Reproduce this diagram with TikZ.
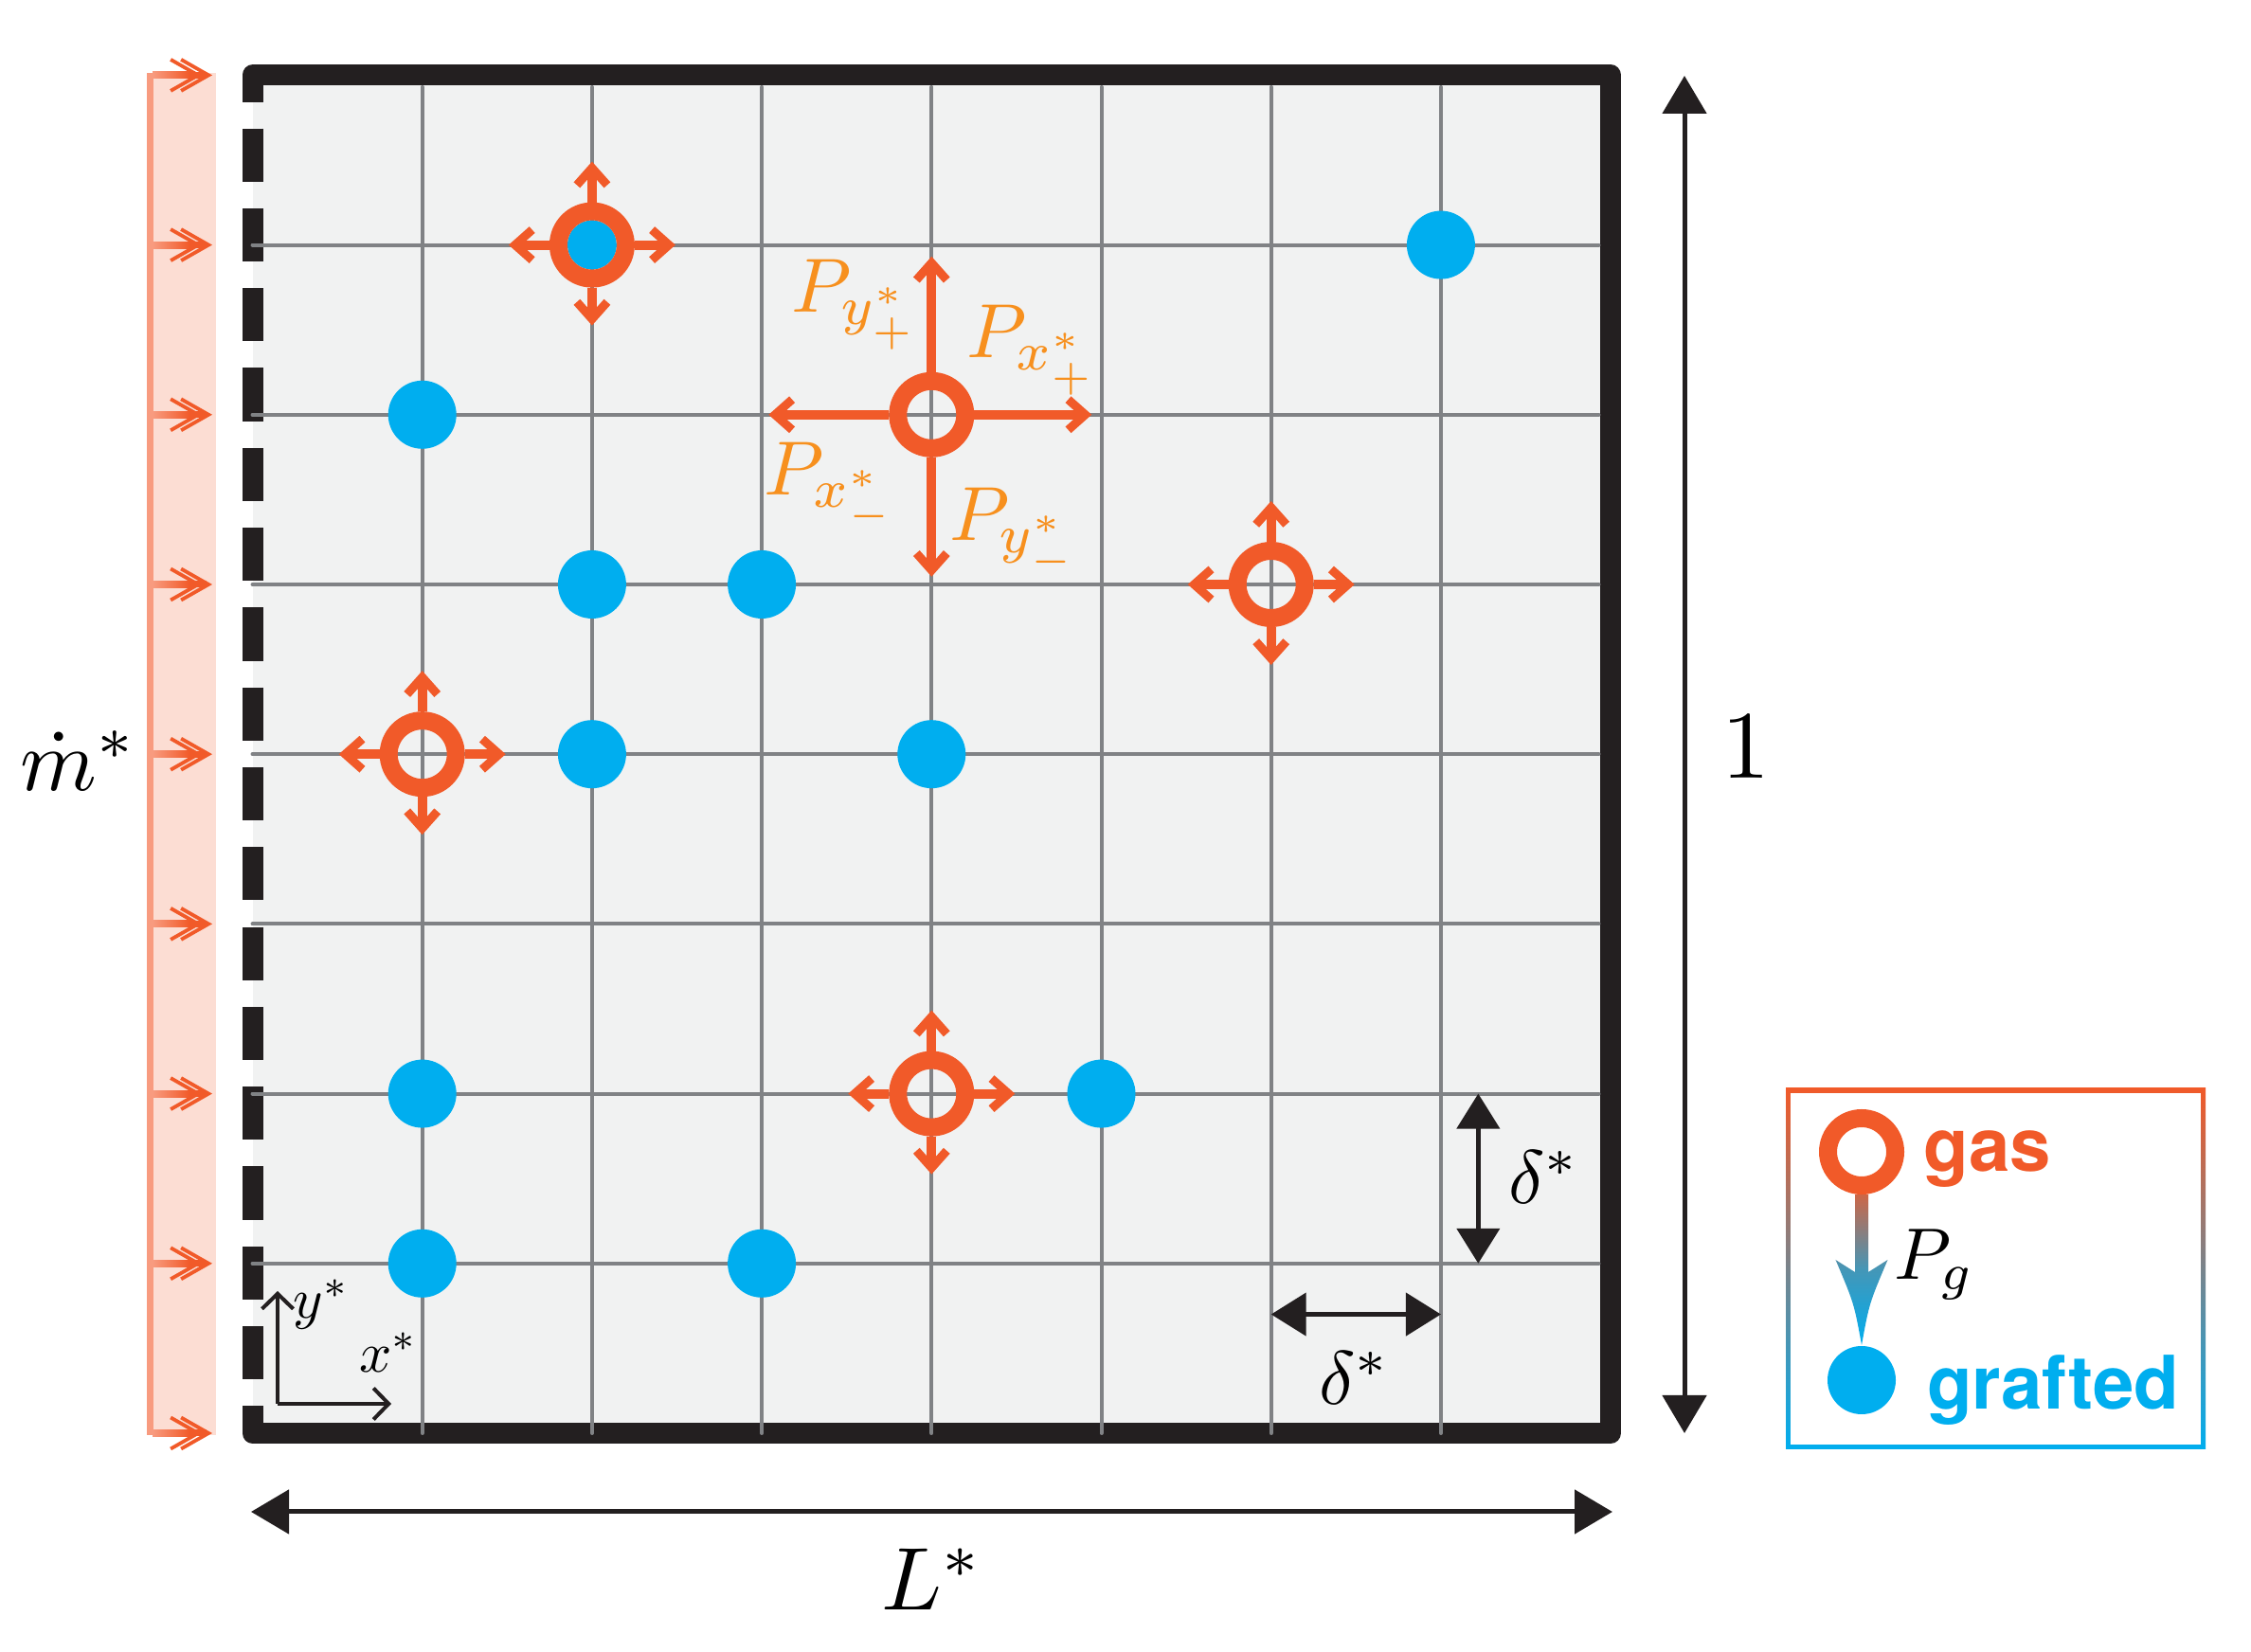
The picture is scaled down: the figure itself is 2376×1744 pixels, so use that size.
\documentclass[tikz,border=0pt]{standalone}
\usepackage{fontspec}
\newfontfamily\legendfont{TeX Gyre Heros}
\usetikzlibrary{arrows.meta}
\definecolor{gasorange}{HTML}{F15A29}
\definecolor{lblorange}{HTML}{F7901E}
\definecolor{graftblue}{HTML}{00AEEF}
\definecolor{gridgrey}{HTML}{808285}
\definecolor{bgfill}{HTML}{F1F2F2}
\definecolor{frameblack}{HTML}{231F20}
\definecolor{inletpink}{HTML}{FCDDD3}
\definecolor{inletline}{HTML}{F89B7F}
\tikzset{
  gasring/.style={circle, draw=gasorange, line width=19pt, minimum size=71pt, inner sep=0pt, outer sep=9.5pt},
  graftdot/.style={circle, fill=graftblue, minimum size=72pt, inner sep=0pt, outer sep=0pt},
  hoparrow/.style={draw=gasorange, line width=10pt, -{Straight Barb[length=18pt,width=32pt,line width=9pt]}},
  dimarrow/.style={draw=frameblack, line width=5pt, {Triangle[length=40pt,width=46pt]}-{Triangle[length=40pt,width=46pt]}},
  deltaarrow/.style={draw=frameblack, line width=4.5pt, {Triangle[length=37pt,width=45pt]}-{Triangle[length=37pt,width=45pt]}},
  axisarrow/.style={draw=frameblack, line width=4pt, -{Straight Barb[length=16pt,width=33pt,line width=4pt]}},
  mathlbl/.style={inner sep=0pt, scale=#1},
  gridline/.style={draw=gridgrey, line width=4pt, line cap=round},
  inletbarb/.style={-{Straight Barb[length=29pt,width=33pt,line width=3.8pt]}},
  legendtxt/.style={font=\legendfont\bfseries\fontsize{78}{80}\selectfont, inner sep=0pt, anchor=base west},
}
\newcommand\gashop[3]{%
  \node[gasring] (#1) at (#2,#3) {};
  \draw[hoparrow] (#1.north) -- ++(0,43pt);
  \draw[hoparrow] (#1.south) -- ++(0,-40pt);
  \draw[hoparrow] (#1.east) -- ++(43pt,0);
  \draw[hoparrow] (#1.west) -- ++(-43pt,0);
}
\begin{document}
\begin{tikzpicture}[x=1pt,y=1pt]
\useasboundingbox (0,0) rectangle (2376,1744);
% inlet band
\fill[inletpink] (155,229) rectangle (228,1667);
\fill[inletline] (155,229) rectangle (162,1667);
\foreach \j in {0,...,8}{
  \pgfmathsetmacro\yy{231+179.2*\j}
  \draw[gasorange, line width=7pt, inletbarb] (195,\yy) -- (224,\yy);
  \draw[gasorange, line width=7pt, inletbarb] (195,\yy) -- (213,\yy);
  \shade[left color=inletline, right color=gasorange] (161,\yy-3.5) rectangle (200,\yy+3.5);
}
% domain
\begin{scope}[shift={(266.5pt,231pt)}, x=179.2pt, y=179.2pt]
  \fill[bgfill] (0,0) rectangle (8,8);
  \draw[frameblack, line width=22pt, line join=round] (0,7.843) -- (0,8) -- (8,8) -- (8,0) -- (0,0) -- (0,0.163);
  \draw[frameblack, line width=22pt, dash pattern=on 56.2pt off 28.1pt, dash phase=28.1pt] (0,8) -- (0,0);
  \foreach \k in {1,...,7}{
    \draw[gridline] (\k,0) -- (\k,7.93);
    \draw[gridline] (0,\k) -- (7.93,\k);
  }
  % grafted sites
  \node[graftdot] (d1) at (7,7) {};
  \node[graftdot] (d2) at (1,6) {};
  \node[graftdot] (d3) at (2,5) {};
  \node[graftdot] (d4) at (3,5) {};
  \node[graftdot] (d5) at (2,4) {};
  \node[graftdot] (d6) at (4,4) {};
  \node[graftdot] (d7) at (1,2) {};
  \node[graftdot] (d8) at (5,2) {};
  \node[graftdot] (d9) at (1,1) {};
  \node[graftdot] (d10) at (3,1) {};
  \node[graftdot, minimum size=52pt] (d11) at (2,7) {};
  % gas sites with hops
  \gashop{gA}{2}{7}
  \gashop{gB}{6}{5}
  \gashop{gC}{1}{4}
  \gashop{gD}{4}{2}
  % main gas site
  \node[gasring] (gmain) at (4,6) {};
  \draw[hoparrow] (gmain.north) -- ++(0,122pt);
  \draw[hoparrow] (gmain.south) -- ++(0,-126pt);
  \draw[hoparrow] (gmain.east) -- ++(124pt,0);
  \draw[hoparrow] (gmain.west) -- ++(-127pt,0);
  % delta arrows
  \coordinate (dv0) at (7.22,1);
  \coordinate (dv1) at (7.22,2);
  \draw[deltaarrow] (dv0) -- (dv1);
  \coordinate (dh0) at (6,0.7);
  \coordinate (dh1) at (7,0.7);
  \draw[deltaarrow] (dh0) -- (dh1);
  % axes
  \coordinate (ax0) at (0.148,0.173);
  \draw[axisarrow] (ax0) -- ++(0,119pt);
  \draw[axisarrow] (ax0) -- ++(120pt,0);
  \node[mathlbl=6] (ylbl) at (0.405,0.759) {$y^*$};
  \node[mathlbl=6] (xlbl) at (0.801,0.474) {$x^*$};
\end{scope}
% dimension arrows
\coordinate (onetop) at (1778,1664);
\coordinate (onebot) at (1778,231);
\draw[dimarrow] (onebot) -- (onetop);
\coordinate (lleft) at (265,148);
\coordinate (lright) at (1702,148);
\draw[dimarrow] (lleft) -- (lright);
% labels
\node[mathlbl=10.2] (onelbl) at (1843,955) {$1$};
\node[mathlbl=9.4] (llbl) at (984,77) {$L^*$};
\node[mathlbl=9.2] (mlbl) at (83,941) {$\dot m^*$};
\node[mathlbl=8] (dvlbl) at (1630,501) {$\delta^*$};
\node[mathlbl=8] (dhlbl) at (1430,289) {$\delta^*$};
\node[mathlbl=8.1, text=lblorange] (pyp) at (903,1422) {$P_{y^*_+}$};
\node[mathlbl=8.1, text=lblorange] (pxp) at (1090,1374) {$P_{x^*_+}$};
\node[mathlbl=8.1, text=lblorange] (pxm) at (877,1229) {$P_{x^*_-}$};
\node[mathlbl=8.1, text=lblorange] (pym) at (1071,1181) {$P_{y^*_-}$};
% legend
\shade[top color=gasorange, bottom color=graftblue] (1885,214) rectangle (2328,595);
\fill[white] (1890,219) rectangle (2323,590);
\node[gasring, draw=none] (lgas) at (1965,528) {};
\shade[top color=gasorange!85!graftblue, bottom color=graftblue, middle color=graftblue!72!gasorange, shift={(lgas.south)}]
  (-7,0) -- (-7,-82) -- (-27.5,-69) .. controls (-8,-115) .. (0,-159)
  .. controls (8,-115) .. (27.5,-69) -- (7,-82) -- (7,0) -- cycle;
\node[gasring] (lgas2) at (1965,528) {};
\node[graftdot] (lgraft) at (1965,287) {};
\node[legendtxt, text=gasorange] (lgastxt) at (2030,507) {gas};
\node[legendtxt, text=graftblue] (lgrafttxt) at (2034,256) {grafted};
\node[mathlbl=7.7] (pglbl) at (2042,409) {$P_g$};
\end{tikzpicture}
\end{document}
